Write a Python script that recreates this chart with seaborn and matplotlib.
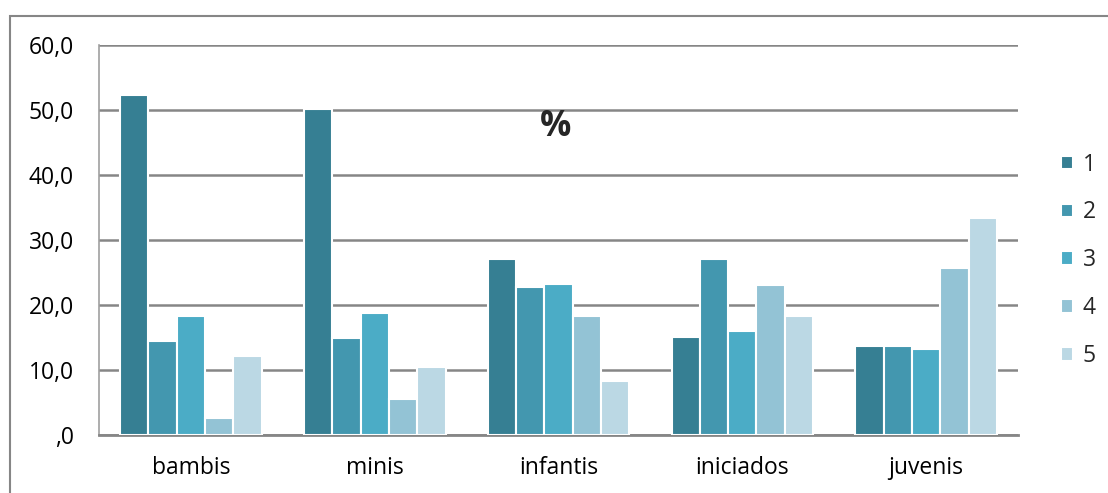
import numpy as np
import pandas as pd
import matplotlib
matplotlib.use("Agg")
import matplotlib.pyplot as plt
import seaborn as sns
from matplotlib.ticker import FuncFormatter
from matplotlib.patches import Rectangle

# Data (%)
categories = ["bambis", "minis", "infantis", "iniciados", "juvenis"]
series = ["1", "2", "3", "4", "5"]
vals_1 = [52.3, 50.1, 27.1, 15.1, 13.7]
vals_2 = [14.4, 14.9, 22.7, 27.1, 13.7]
vals_3 = [18.3, 18.7, 23.2, 16.0, 13.3]
vals_4 = [2.6, 5.6, 18.3, 23.1, 25.7]
vals_5 = [12.2, 10.4, 8.3, 18.3, 33.4]
colors = ["#367F93", "#4397AF", "#4BACC6", "#93C3D5", "#BBD8E4"]

rows = []
for s, vals in zip(series, [vals_1, vals_2, vals_3, vals_4, vals_5]):
    for c, v in zip(categories, vals):
        rows.append({"grupo": c, "serie": s, "valor": v})
df = pd.DataFrame(rows)

sns.set_theme(style="white")
plt.rcParams['font.family'] = ['Open Sans', 'DejaVu Sans']

fig = plt.figure(figsize=(11.08, 4.93), dpi=100)
ax = fig.add_axes([0.0894, 0.1176, 0.8294, 0.7911])

sns.barplot(data=df, x="grupo", y="valor", hue="serie", palette=colors,
            saturation=1, width=0.77, edgecolor="white", linewidth=1.5,
            ax=ax, zorder=3)

ax.set_ylim(0, 60)
ax.set_yticks(np.arange(0, 61, 10))
ax.yaxis.set_major_formatter(FuncFormatter(
    lambda v, p: ",0" if v == 0 else f"{v:.1f}".replace(".", ",")))
ax.yaxis.grid(True, color="#868686", linewidth=1.8)
ax.set_axisbelow(True)
ax.set_xlabel("")
ax.set_ylabel("")
ax.tick_params(axis="both", length=0, labelsize=16.5, colors="black")
ax.tick_params(axis="y", pad=18)
ax.tick_params(axis="x", pad=15)

for side in ["top", "right"]:
    ax.spines[side].set_visible(False)
ax.spines["left"].set_color("#A0A0A0")
ax.spines["left"].set_linewidth(1.2)
ax.spines["bottom"].set_color("#868686")
ax.spines["bottom"].set_linewidth(2)

ax.text(0.497, 0.79, "%", transform=ax.transAxes, ha="center", va="center",
        fontsize=25, fontweight="bold")

ax.legend(loc="center left", bbox_to_anchor=(1.034, 0.448), frameon=False,
          fontsize=16.5, borderpad=0, handlelength=0.52, handleheight=0.52,
          labelspacing=1.04, handletextpad=0.45)

# outer chart frame (top and left edges)
fig.patches.append(Rectangle((10 / 1108, -0.1), 1.2, 1 - 16 / 493 + 0.1,
                             transform=fig.transFigure, fill=False,
                             edgecolor="#868686", linewidth=1.5))

fig.savefig("out.png", dpi=100)
